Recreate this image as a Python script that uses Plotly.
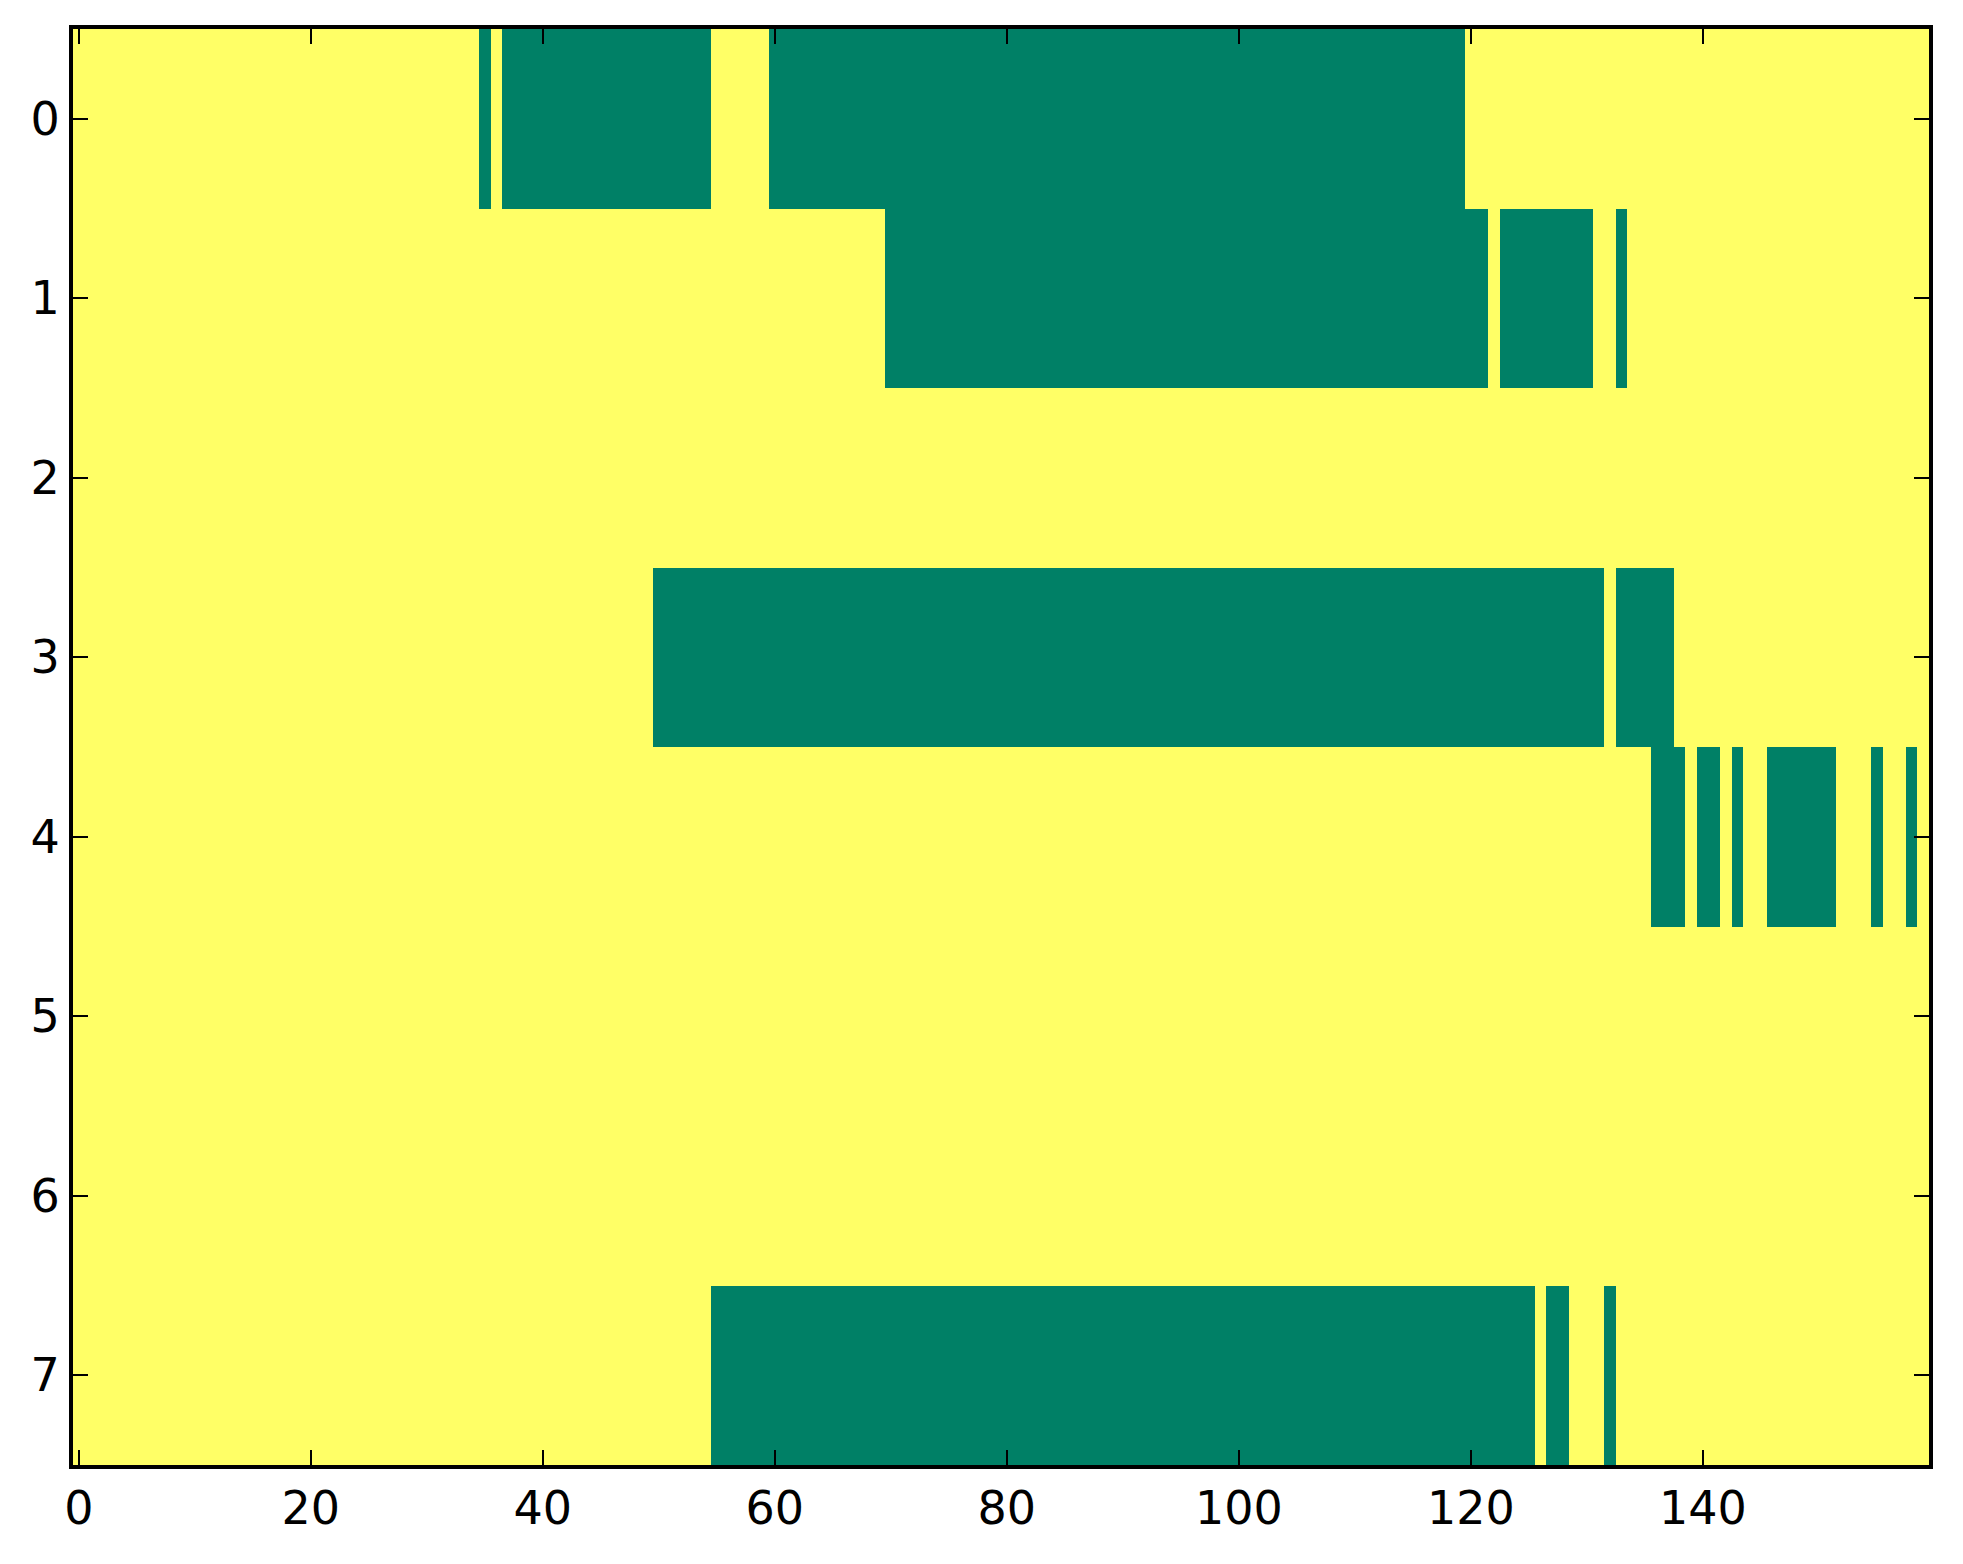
"""
plot.py - binary occupancy map (8 rows x 160 columns), matplotlib "summer" look.
"""
import numpy as np
import plotly.graph_objects as go

_GREEN  = "#008066"   # value 0
_YELLOW = "#FFFF66"   # value 1
_FONT   = "DejaVu Sans"

N_COLS = 160
N_ROWS = 8

# green runs per row, inclusive column ranges
row0_green = [(35, 35), (37, 54), (60, 119)]
row1_green = [(70, 121), (123, 130), (133, 133)]
row2_green = []
row3_green = [(50, 131), (133, 137)]
row4_green = [(136, 138), (140, 141), (143, 143), (146, 151), (155, 155), (158, 158)]
row5_green = []
row6_green = []
row7_green = [(55, 125), (127, 128), (132, 132)]

rows = [row0_green, row1_green, row2_green, row3_green,
        row4_green, row5_green, row6_green, row7_green]

x_ticks = [0, 20, 40, 60, 80, 100, 120, 140]
y_ticks = list(range(N_ROWS))

z = np.ones((N_ROWS, N_COLS))
for r, runs in enumerate(rows):
    for a, b in runs:
        z[r, a:b + 1] = 0

fig = go.Figure(
    go.Heatmap(
        z=z,
        x=np.arange(N_COLS),
        y=np.arange(N_ROWS),
        colorscale=[[0, _GREEN], [1, _YELLOW]],
        zmin=0,
        zmax=1,
        showscale=False,
        zsmooth=False,
        hoverinfo="skip",
    )
)

_axis = dict(
    showline=True,
    linecolor="black",
    linewidth=4,
    mirror="ticks",
    ticks="inside",
    ticklen=15,
    tickwidth=2,
    tickcolor="black",
    showgrid=False,
    zeroline=False,
    tickfont=dict(family=_FONT, size=46, color="black"),
)

# page body has an 8px default margin, so the figure is sized to sit inside the window
fig.update_layout(
    width=1947,
    height=1548,
    paper_bgcolor="white",
    plot_bgcolor="white",
    margin=dict(l=65, r=26, t=21, b=91),
    xaxis=dict(range=[-0.5, N_COLS - 0.5], tickvals=x_ticks, **_axis),
    yaxis=dict(range=[N_ROWS - 0.5, -0.5], tickvals=y_ticks, **_axis),
    font=dict(family=_FONT, color="black"),
)

fig.write_html("out.html")
